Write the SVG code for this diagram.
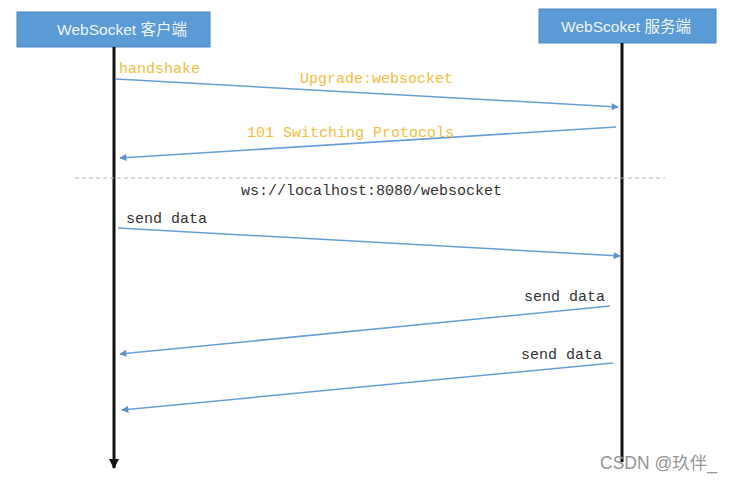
<svg xmlns="http://www.w3.org/2000/svg" width="736" height="480" viewBox="0 0 736 480">
<style>
.box{fill:#5b9bd5;stroke:#4a86c0;stroke-width:1}
.title{font-family:"Liberation Sans","Noto Sans CJK SC",sans-serif;font-size:15.5px;fill:#eef4fb;text-anchor:middle}
.life{stroke:#111;stroke-width:3;fill:none}
.msg{stroke:#6a9fd6;stroke-width:1.5;fill:none;marker-end:url(#ah)}
.lbl{font-family:"Liberation Mono",monospace;font-size:15px}
.or{fill:#f5bd3c}
.dk{fill:#333}
.wm{font-family:"Liberation Sans","Noto Sans CJK SC",sans-serif;font-size:17.5px;fill:#959595}
</style>
<defs>
<marker id="ah" viewBox="0 0 10 10" refX="9" refY="5" markerWidth="9" markerHeight="7" markerUnits="userSpaceOnUse" orient="auto">
<path d="M0,0 L10,5 L0,10 z" fill="#5b8fcf"/>
</marker>
<marker id="bh" viewBox="0 0 10 10" refX="9" refY="5" markerWidth="11" markerHeight="10" markerUnits="userSpaceOnUse" orient="auto">
<path d="M0,0 L10,5 L0,10 z" fill="#111"/>
</marker>
</defs>
<rect width="736" height="480" fill="#fff"/>
<g id="client">
<rect class="box" x="17" y="12" width="193" height="35"/>
<text class="title" x="122" y="35">WebSocket 客户端</text>
</g>
<g id="server">
<rect class="box" x="539" y="9" width="177" height="34"/>
<text class="title" x="626" y="32">WebScoket 服务端</text>
</g>
<g id="lifelines">
<line class="life" x1="114" y1="47" x2="114" y2="468" marker-end="url(#bh)"/>
<line class="life" x1="622" y1="43" x2="622" y2="462"/>
</g>
<g id="connectors">
<line class="msg" x1="116" y1="79" x2="618" y2="107"/>
<line class="msg" x1="616" y1="127" x2="120" y2="158"/>
<line x1="75" y1="178" x2="665" y2="178" stroke="#b5b5b5" stroke-width="1" stroke-dasharray="4,3"/>
<line class="msg" x1="118" y1="228" x2="620" y2="256"/>
<line class="msg" x1="610" y1="306" x2="120" y2="354"/>
<line class="msg" x1="613" y1="363" x2="122" y2="410"/>
</g>
<g id="labels">
<text class="lbl or" x="119" y="73">handshake</text>
<text class="lbl or" x="300" y="83">Upgrade:websocket</text>
<text class="lbl or" x="247" y="137">101 Switching Protocols</text>
<text class="lbl dk" x="241" y="195">ws://localhost:8080/websocket</text>
<text class="lbl dk" x="126" y="223">send data</text>
<text class="lbl dk" x="605" y="301" text-anchor="end">send data</text>
<text class="lbl dk" x="602" y="359" text-anchor="end">send data</text>
</g>
<text class="wm" x="600" y="469">CSDN @玖伴_</text>
</svg>
